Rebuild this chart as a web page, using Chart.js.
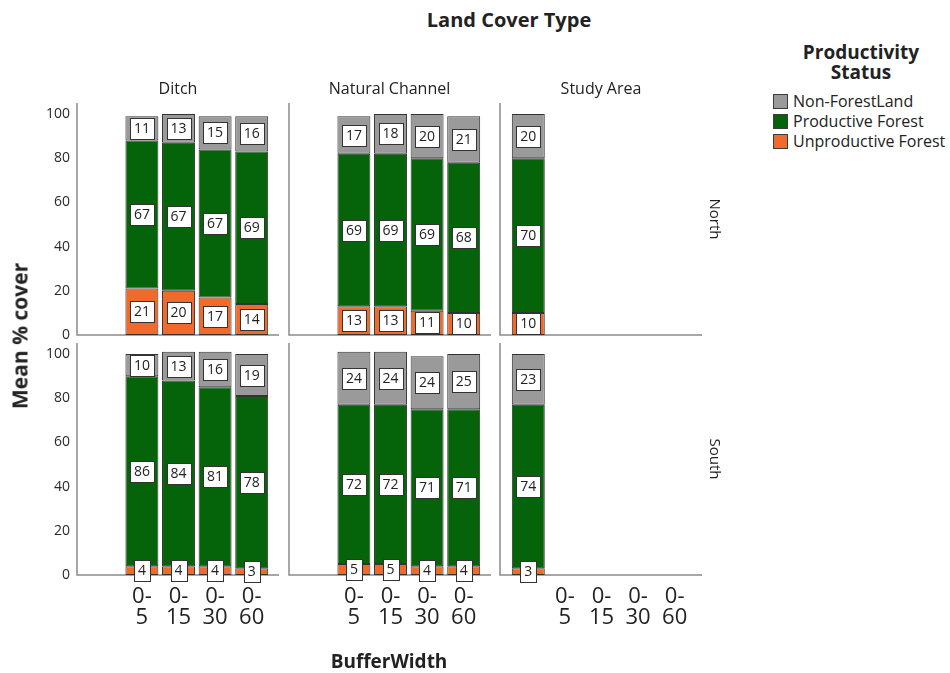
<!DOCTYPE html>
<html>
<head>
<meta charset="utf-8">
<title>Mean % cover by Land Cover Type and BufferWidth</title>
<script src="https://cdn.jsdelivr.net/npm/chart.js@4.4.1/dist/chart.umd.min.js"></script>
<style>
  html, body { margin: 0; padding: 0; background: #fff; }
  body { width: 950px; height: 673px; position: relative; overflow: hidden;
         font-family: "Open Sans", "DejaVu Sans", sans-serif; color: #222; }
  canvas.panel { position: absolute; }
  .txt { position: absolute; white-space: nowrap; line-height: 1; }
  .legend { position: absolute; left: 773px; top: 42px; }
  .legend-title { position: absolute; left: 88px; top: 0; transform: translateX(-50%);
                  font-weight: 700; font-size: 19px; line-height: 20px; text-align: center; }
  .legend-row { position: absolute; left: 0; height: 20px; display: flex; align-items: center;
                font-size: 16px; white-space: nowrap; }
  .swatch { width: 13px; height: 13px; border: 1px solid #3c3c3c; margin-right: 5px; flex: none; }
</style>
</head>
<body>

<script>
// ---- categories and labels ----
const bufferWidths = ['0-5', '0-15', '0-30', '0-60'];
const xCategories = ['', ...bufferWidths];        // first slot carries the Study Area bar
const coverTypes = ['Ditch', 'Natural Channel', 'Study Area'];
const regions = ['North', 'South'];
const statusNames = ['Non-ForestLand', 'Productive Forest', 'Unproductive Forest'];
const yTicks = [0, 20, 40, 60, 80, 100];

// ---- mean % cover, ordered by bufferWidths ----
const northDitchNonForest    = [11, 13, 15, 16];
const northDitchProductive   = [67, 67, 67, 69];
const northDitchUnproductive = [21, 20, 17, 14];

const northChannelNonForest    = [17, 18, 20, 21];
const northChannelProductive   = [69, 69, 69, 68];
const northChannelUnproductive = [13, 13, 11, 10];

const northStudyNonForest    = [20];
const northStudyProductive   = [70];
const northStudyUnproductive = [10];

const southDitchNonForest    = [10, 13, 16, 19];
const southDitchProductive   = [86, 84, 81, 78];
const southDitchUnproductive = [4, 4, 4, 3];

const southChannelNonForest    = [24, 24, 24, 25];
const southChannelProductive   = [72, 72, 71, 71];
const southChannelUnproductive = [5, 5, 4, 4];

const southStudyNonForest    = [23];
const southStudyProductive   = [74];
const southStudyUnproductive = [3];

// ---- styling ----
const statusColors = ['#9a9a9a', '#05640a', '#f06a2b'];
const barEdge = '#333333';
const axisColor = '#8a8a8a';
const FONT = '"Open Sans", "DejaVu Sans", sans-serif';

// ---- facet geometry ----
const panelAxisX = [77, 288.5, 500];
const panelTopY = [103, 343];
const PANEL_W = 202, PANEL_H = 232, PLOT_GAP = 10, PLOT_W = 183;
const CANVAS_LEFT = 80, CANVAS_TOP = 12, CANVAS_RIGHT = 20, CANVAS_BOTTOM = 62;

// panels: [row][col] -> [nonForest, productive, unproductive] and category offset
const panels = [
  [
    { values: [northDitchNonForest, northDitchProductive, northDitchUnproductive], start: 1 },
    { values: [northChannelNonForest, northChannelProductive, northChannelUnproductive], start: 1 },
    { values: [northStudyNonForest, northStudyProductive, northStudyUnproductive], start: 0 }
  ],
  [
    { values: [southDitchNonForest, southDitchProductive, southDitchUnproductive], start: 1 },
    { values: [southChannelNonForest, southChannelProductive, southChannelUnproductive], start: 1 },
    { values: [southStudyNonForest, southStudyProductive, southStudyUnproductive], start: 0 }
  ]
];

// place a series onto the 5-slot category axis
function spread(arr, start) {
  const out = xCategories.map(() => null);
  arr.forEach((v, i) => { out[start + i] = v; });
  return out;
}

// left and bottom frame lines of each facet
const facetFrame = {
  id: 'facetFrame',
  beforeDatasetsDraw(chart) {
    const { ctx, chartArea } = chart;
    const x0 = chartArea.left - PLOT_GAP;
    const y0 = chart.scales.y.getPixelForValue(0);
    ctx.save();
    ctx.strokeStyle = axisColor;
    ctx.lineWidth = 1.5;
    ctx.beginPath();
    ctx.moveTo(x0, chartArea.top);
    ctx.lineTo(x0, y0);
    ctx.lineTo(x0 + PANEL_W, y0);
    ctx.stroke();
    ctx.restore();
  }
};

// boxed value labels in the middle of each segment
const boxedLabels = {
  id: 'boxedLabels',
  afterDatasetsDraw(chart) {
    const { ctx } = chart;
    ctx.save();
    ctx.font = '14px ' + FONT;
    ctx.textAlign = 'center';
    ctx.textBaseline = 'middle';
    chart.data.datasets.forEach((ds, di) => {
      const meta = chart.getDatasetMeta(di);
      meta.data.forEach((el, i) => {
        const v = ds.data[i];
        if (v === null || v === undefined) return;
        const { x, y, base } = el.getProps(['x', 'y', 'base'], true);
        const cy = (y + base) / 2;
        const text = String(v);
        const w = Math.round(ctx.measureText(text).width) + 8;
        const h = 21;
        const bx = Math.round(x - w / 2) + 0.5, by = Math.round(cy - h / 2) + 0.5;
        ctx.fillStyle = '#fff';
        ctx.fillRect(bx, by, w, h);
        ctx.strokeStyle = '#333';
        ctx.lineWidth = 1;
        ctx.strokeRect(bx, by, w, h);
        ctx.fillStyle = '#222';
        ctx.fillText(text, x, cy + 0.5);
      });
    });
    ctx.restore();
  }
};

function buildPanel(r, c) {
  const cfg = panels[r][c];
  const canvas = document.createElement('canvas');
  canvas.className = 'panel';
  const w = CANVAS_LEFT + PLOT_GAP + PLOT_W + CANVAS_RIGHT;
  const h = CANVAS_TOP + PANEL_H + CANVAS_BOTTOM;
  canvas.width = w; canvas.height = h;
  canvas.style.width = w + 'px'; canvas.style.height = h + 'px';
  canvas.style.left = (panelAxisX[c] - CANVAS_LEFT) + 'px';
  canvas.style.top = (panelTopY[r] - CANVAS_TOP) + 'px';
  document.body.appendChild(canvas);

  // stack from the bottom: unproductive, productive, non-forest
  const order = [2, 1, 0];
  const datasets = order.map(k => ({
    label: statusNames[k],
    data: spread(cfg.values[k], cfg.start),
    backgroundColor: statusColors[k],
    borderColor: barEdge,
    borderWidth: 1,
    borderSkipped: false,
    categoryPercentage: 1.0,
    barPercentage: 0.9
  }));

  new Chart(canvas, {
    type: 'bar',
    data: { labels: xCategories, datasets },
    options: {
      responsive: false,
      animation: false,
      devicePixelRatio: 1,
      layout: { padding: { left: 0, right: CANVAS_RIGHT, top: CANVAS_TOP, bottom: 0 } },
      plugins: { legend: { display: false }, tooltip: { enabled: false }, title: { display: false } },
      scales: {
        x: {
          type: 'category',
          stacked: true,
          offset: true,
          grid: { display: false, drawTicks: false },
          border: { display: false },
          ticks: {
            display: r === 1,
            autoSkip: false,
            maxRotation: 0,
            minRotation: 0,
            padding: 12,
            color: '#222',
            font: { family: FONT, size: 22, lineHeight: 0.92 },
            callback(value) {
              const lab = this.getLabelForValue(value);
              if (!lab) return '';
              const cut = lab.indexOf('-') + 1;
              return [lab.slice(0, cut), lab.slice(cut)];
            }
          },
          afterFit(scale) {
            scale.height = CANVAS_BOTTOM;
            scale.paddingLeft = 0; scale.paddingRight = 0;
          }
        },
        y: {
          stacked: true,
          min: 0,
          max: 105,
          grid: { display: false, drawTicks: false },
          border: { display: false },
          afterBuildTicks(scale) { scale.ticks = yTicks.map(v => ({ value: v })); },
          ticks: {
            display: c === 0,
            padding: 17,
            color: '#2a2a2a',
            font: { family: FONT, size: 14 }
          },
          afterFit(scale) {
            scale.width = CANVAS_LEFT + PLOT_GAP;
            scale.paddingTop = 0; scale.paddingBottom = 0;
          }
        }
      }
    },
    plugins: [facetFrame, boxedLabels]
  });
}

for (let r = 0; r < regions.length; r++) {
  for (let c = 0; c < coverTypes.length; c++) buildPanel(r, c);
}

// ---- titles, strip labels and legend ----
function addText(text, x, y, css, rotate) {
  const d = document.createElement('div');
  d.className = 'txt';
  d.textContent = text;
  d.style.left = x + 'px';
  d.style.top = y + 'px';
  d.style.transform = 'translate(-50%, -50%)' + (rotate ? ' rotate(' + rotate + 'deg)' : '');
  Object.assign(d.style, css);
  document.body.appendChild(d);
}

addText('Land Cover Type', 509, 20, { fontSize: '20px', fontWeight: 700 });
coverTypes.forEach((name, c) => addText(name, panelAxisX[c] + PANEL_W / 2, 88, { fontSize: '16px' }));
regions.forEach((name, r) => addText(name, 715, panelTopY[r] + PANEL_H / 2, { fontSize: '15px' }, 90));
addText('Mean % cover', 20, 336, { fontSize: '21px', fontWeight: 700 }, -90);
addText('BufferWidth', 389, 661, { fontSize: '19px', fontWeight: 700 });

const legend = document.createElement('div');
legend.className = 'legend';
const lt = document.createElement('div');
lt.className = 'legend-title';
lt.innerHTML = 'Productivity<br>Status';
legend.appendChild(lt);
statusNames.forEach((name, k) => {
  const row = document.createElement('div');
  row.className = 'legend-row';
  row.style.top = (49 + k * 20) + 'px';
  const sw = document.createElement('span');
  sw.className = 'swatch';
  sw.style.background = statusColors[k];
  const tx = document.createElement('span');
  tx.textContent = name;
  row.appendChild(sw);
  row.appendChild(tx);
  legend.appendChild(row);
});
document.body.appendChild(legend);
</script>
</body>
</html>
